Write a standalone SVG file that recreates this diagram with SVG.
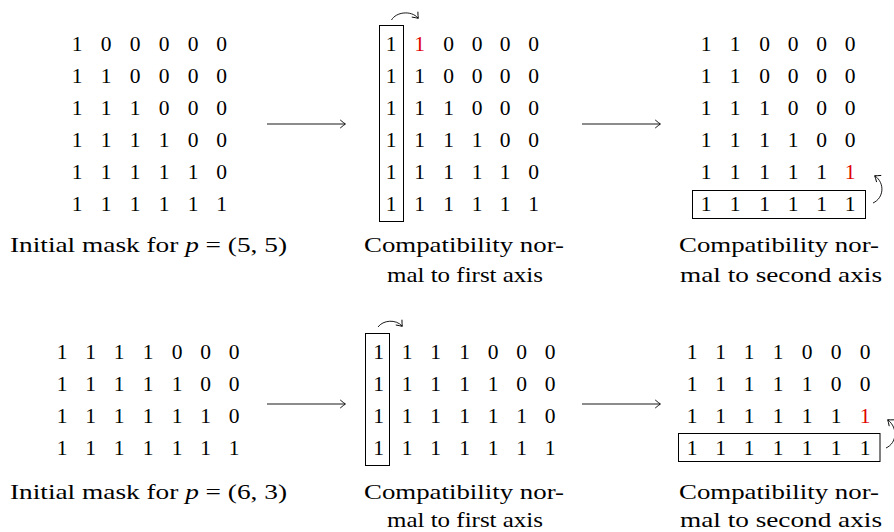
<svg xmlns="http://www.w3.org/2000/svg" width="894" height="532" viewBox="0 0 894 532">
<style>
  text { font-family: "Liberation Serif", "DejaVu Serif", serif; font-size: 21.5px; fill: #000; }
  .m text { text-anchor: middle; }
  .red { fill: #e00000; }
  .cap { text-anchor: middle; font-size: 22px; }
  .box { fill: none; stroke: #000; stroke-width: 1; }
  .conn { fill: none; stroke: #000; stroke-width: 0.9; marker-end: url(#to); }
</style>
<defs>
  <marker id="to" viewBox="-6 -5 8 10" markerWidth="8" markerHeight="10" refX="0" refY="0" orient="auto" markerUnits="userSpaceOnUse">
    <path d="M -4.5 -3.8 Q -1.2 -1 0.5 0 Q -1.2 1 -4.5 3.8" fill="none" stroke="#000" stroke-width="0.9" stroke-linecap="round"/>
  </marker>
</defs>

<!-- Top row -->
<g id="m1" class="m">
  <text x="77" y="51">1</text><text x="106" y="51">0</text><text x="135" y="51">0</text><text x="164" y="51">0</text><text x="193" y="51">0</text><text x="221.5" y="51">0</text>
  <text x="77" y="83">1</text><text x="106" y="83">1</text><text x="135" y="83">0</text><text x="164" y="83">0</text><text x="193" y="83">0</text><text x="221.5" y="83">0</text>
  <text x="77" y="115">1</text><text x="106" y="115">1</text><text x="135" y="115">1</text><text x="164" y="115">0</text><text x="193" y="115">0</text><text x="221.5" y="115">0</text>
  <text x="77" y="147">1</text><text x="106" y="147">1</text><text x="135" y="147">1</text><text x="164" y="147">1</text><text x="193" y="147">0</text><text x="221.5" y="147">0</text>
  <text x="77" y="179">1</text><text x="106" y="179">1</text><text x="135" y="179">1</text><text x="164" y="179">1</text><text x="193" y="179">1</text><text x="221.5" y="179">0</text>
  <text x="77" y="211">1</text><text x="106" y="211">1</text><text x="135" y="211">1</text><text x="164" y="211">1</text><text x="193" y="211">1</text><text x="221.5" y="211">1</text>
  <text class="cap" x="148.5" y="252" textLength="277" lengthAdjust="spacingAndGlyphs">Initial mask for <tspan font-style="italic">p</tspan> = (5, 5)</text>
</g>

<g id="m2" class="m">
  <rect class="box" x="379.5" y="25.5" width="24" height="196"/>
  <text x="391" y="51">1</text><text class="red" x="419.5" y="51">1</text><text x="448.5" y="51">0</text><text x="477" y="51">0</text><text x="505" y="51">0</text><text x="533.5" y="51">0</text>
  <text x="391" y="83">1</text><text x="419.5" y="83">1</text><text x="448.5" y="83">0</text><text x="477" y="83">0</text><text x="505" y="83">0</text><text x="533.5" y="83">0</text>
  <text x="391" y="115">1</text><text x="419.5" y="115">1</text><text x="448.5" y="115">1</text><text x="477" y="115">0</text><text x="505" y="115">0</text><text x="533.5" y="115">0</text>
  <text x="391" y="147">1</text><text x="419.5" y="147">1</text><text x="448.5" y="147">1</text><text x="477" y="147">1</text><text x="505" y="147">0</text><text x="533.5" y="147">0</text>
  <text x="391" y="179">1</text><text x="419.5" y="179">1</text><text x="448.5" y="179">1</text><text x="477" y="179">1</text><text x="505" y="179">1</text><text x="533.5" y="179">0</text>
  <text x="391" y="211">1</text><text x="419.5" y="211">1</text><text x="448.5" y="211">1</text><text x="477" y="211">1</text><text x="505" y="211">1</text><text x="533.5" y="211">1</text>
  <text class="cap" x="464" y="252" textLength="200" lengthAdjust="spacingAndGlyphs">Compatibility nor-</text>
  <text class="cap" x="465" y="282" textLength="156" lengthAdjust="spacingAndGlyphs">mal to first axis</text>
</g>

<g id="m3" class="m">
  <rect class="box" x="692.5" y="190.5" width="173" height="28"/>
  <text x="706" y="51">1</text><text x="735" y="51">1</text><text x="764.5" y="51">0</text><text x="793" y="51">0</text><text x="821.5" y="51">0</text><text x="850" y="51">0</text>
  <text x="706" y="83">1</text><text x="735" y="83">1</text><text x="764.5" y="83">0</text><text x="793" y="83">0</text><text x="821.5" y="83">0</text><text x="850" y="83">0</text>
  <text x="706" y="115">1</text><text x="735" y="115">1</text><text x="764.5" y="115">1</text><text x="793" y="115">0</text><text x="821.5" y="115">0</text><text x="850" y="115">0</text>
  <text x="706" y="147">1</text><text x="735" y="147">1</text><text x="764.5" y="147">1</text><text x="793" y="147">1</text><text x="821.5" y="147">0</text><text x="850" y="147">0</text>
  <text x="706" y="179">1</text><text x="735" y="179">1</text><text x="764.5" y="179">1</text><text x="793" y="179">1</text><text x="821.5" y="179">1</text><text class="red" x="850" y="179">1</text>
  <text x="706" y="211">1</text><text x="735" y="211">1</text><text x="764.5" y="211">1</text><text x="793" y="211">1</text><text x="821.5" y="211">1</text><text x="850" y="211">1</text>
  <text class="cap" x="779" y="252" textLength="200" lengthAdjust="spacingAndGlyphs">Compatibility nor-</text>
  <text class="cap" x="781" y="282" textLength="202" lengthAdjust="spacingAndGlyphs">mal to second axis</text>
</g>

<!-- Bottom row -->
<g id="m4" class="m">
  <text x="62" y="359">1</text><text x="90.5" y="359">1</text><text x="119" y="359">1</text><text x="148" y="359">1</text><text x="177" y="359">0</text><text x="205.5" y="359">0</text><text x="234" y="359">0</text>
  <text x="62" y="391">1</text><text x="90.5" y="391">1</text><text x="119" y="391">1</text><text x="148" y="391">1</text><text x="177" y="391">1</text><text x="205.5" y="391">0</text><text x="234" y="391">0</text>
  <text x="62" y="423">1</text><text x="90.5" y="423">1</text><text x="119" y="423">1</text><text x="148" y="423">1</text><text x="177" y="423">1</text><text x="205.5" y="423">1</text><text x="234" y="423">0</text>
  <text x="62" y="455">1</text><text x="90.5" y="455">1</text><text x="119" y="455">1</text><text x="148" y="455">1</text><text x="177" y="455">1</text><text x="205.5" y="455">1</text><text x="234" y="455">1</text>
  <text class="cap" x="148.5" y="499" textLength="277" lengthAdjust="spacingAndGlyphs">Initial mask for <tspan font-style="italic">p</tspan> = (6, 3)</text>
</g>

<g id="m5" class="m">
  <rect class="box" x="365.5" y="333.5" width="24" height="132"/>
  <text x="378.5" y="359">1</text><text x="407" y="359">1</text><text x="435.5" y="359">1</text><text x="464.5" y="359">1</text><text x="493" y="359">0</text><text x="521.5" y="359">0</text><text x="550" y="359">0</text>
  <text x="378.5" y="391">1</text><text x="407" y="391">1</text><text x="435.5" y="391">1</text><text x="464.5" y="391">1</text><text x="493" y="391">1</text><text x="521.5" y="391">0</text><text x="550" y="391">0</text>
  <text x="378.5" y="423">1</text><text x="407" y="423">1</text><text x="435.5" y="423">1</text><text x="464.5" y="423">1</text><text x="493" y="423">1</text><text x="521.5" y="423">1</text><text x="550" y="423">0</text>
  <text x="378.5" y="455">1</text><text x="407" y="455">1</text><text x="435.5" y="455">1</text><text x="464.5" y="455">1</text><text x="493" y="455">1</text><text x="521.5" y="455">1</text><text x="550" y="455">1</text>
  <text class="cap" x="464" y="499" textLength="200" lengthAdjust="spacingAndGlyphs">Compatibility nor-</text>
  <text class="cap" x="465" y="527" textLength="156" lengthAdjust="spacingAndGlyphs">mal to first axis</text>
</g>

<g id="m6" class="m">
  <rect class="box" x="678.5" y="433.5" width="201.5" height="28"/>
  <text x="692" y="359">1</text><text x="720.5" y="359">1</text><text x="749" y="359">1</text><text x="778" y="359">1</text><text x="807" y="359">0</text><text x="836" y="359">0</text><text x="865" y="359">0</text>
  <text x="692" y="391">1</text><text x="720.5" y="391">1</text><text x="749" y="391">1</text><text x="778" y="391">1</text><text x="807" y="391">1</text><text x="836" y="391">0</text><text x="865" y="391">0</text>
  <text x="692" y="423">1</text><text x="720.5" y="423">1</text><text x="749" y="423">1</text><text x="778" y="423">1</text><text x="807" y="423">1</text><text x="836" y="423">1</text><text class="red" x="865" y="423">1</text>
  <text x="692" y="455">1</text><text x="720.5" y="455">1</text><text x="749" y="455">1</text><text x="778" y="455">1</text><text x="807" y="455">1</text><text x="836" y="455">1</text><text x="865" y="455">1</text>
  <text class="cap" x="779" y="499" textLength="200" lengthAdjust="spacingAndGlyphs">Compatibility nor-</text>
  <text class="cap" x="781" y="527" textLength="202" lengthAdjust="spacingAndGlyphs">mal to second axis</text>
</g>

<g id="connectors">
  <path class="conn" d="M 267 124 L 345 124"/>
  <path class="conn" d="M 582 124 L 660 124"/>
  <path class="conn" d="M 267 404 L 345 404"/>
  <path class="conn" d="M 582 404 L 660 404"/>
  <path class="conn" d="M 391.5 20 C 396 12, 411 10, 418 18"/>
  <path class="conn" d="M 873 203 C 884 198, 885 183, 875 176"/>
  <path class="conn" d="M 378 327 C 383 320, 396 319, 402 326"/>
  <path class="conn" d="M 886 448 C 897 443, 898 428, 888 420"/>
</g>
</svg>
